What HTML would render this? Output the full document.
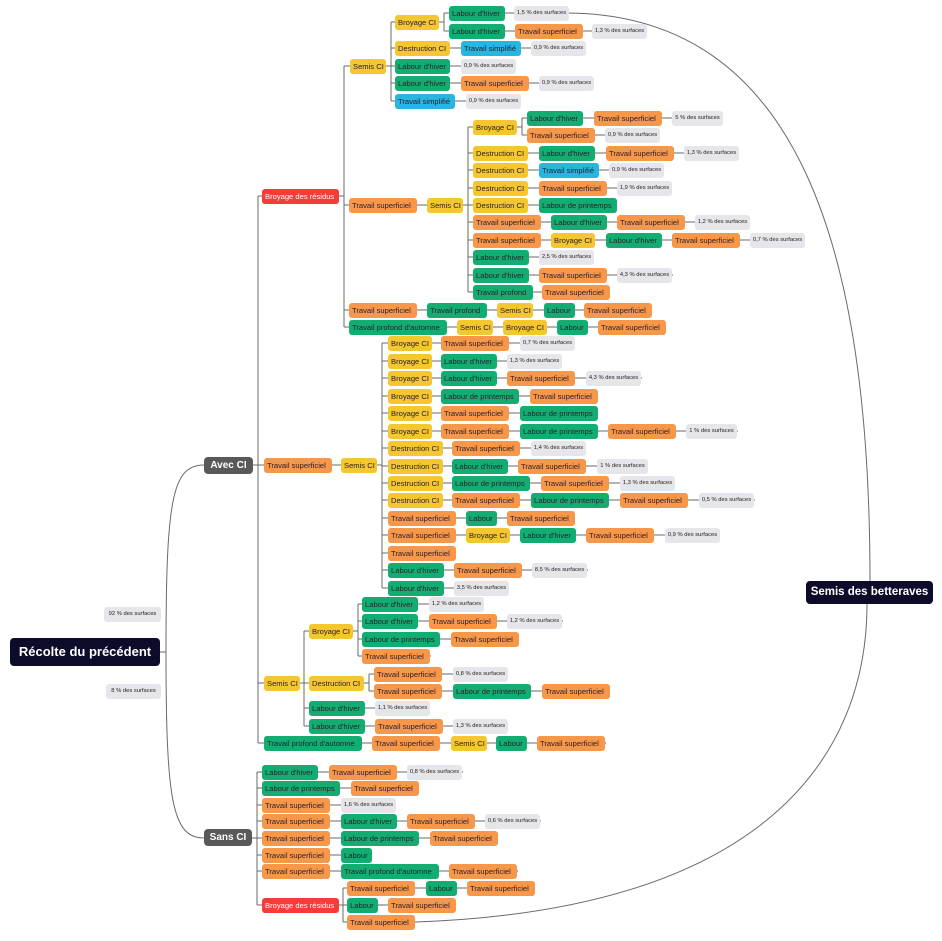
<!DOCTYPE html>
<html><head><meta charset="utf-8"><style>
body{margin:0;width:942px;height:941px;background:#fff;position:relative;overflow:hidden;font-family:"Liberation Sans",sans-serif}
svg{position:absolute;left:0;top:0}
.n{position:absolute;height:15px;line-height:15px;font-size:7.6px;padding:0 0 0 3px;box-sizing:border-box;border-radius:3px;white-space:nowrap;color:#2a2030;overflow:hidden}
.y{background:#f4c630}.g{background:#13ad72}.o{background:#f7974a}.b{background:#27b6e0}.r{background:#f43c38;color:#fff}
.p{background:#e6e6ea;font-size:5.8px;width:55px;color:#222;text-align:center;padding:0}
.ts{width:68px}.lh{width:56px}.bc{width:44px}.sc{width:36px}.dc{width:55px}.tsi{width:60px}.lp{width:78px}.tp{width:60px}.tpa{width:98px}.lb{width:31px}.br{width:77px}
.w51{width:51px}
.big{position:absolute;color:#fff;border-radius:4px;text-align:center;font-weight:bold}
</style></head><body>
<svg width="942" height="941" fill="none" stroke="#6a6a6a" stroke-width="1">
<path d="M160,652H166C166,500 172,465 204,465M166,652C166,800 172,838 204,838"/>
<path d="M568,13C800,15 870,250 870,581M416,922C760,910 867,760 867,604"/>
<path d="M258,196V743M344,66V327M391,22V101M444,13V31M468,127V292M522,118V135M382,343V588M304,631V726M358,604V656M369,674V691M257,772V905M343,888V922"/>
<path d="M258,196H344M252,465H382M258,683H304M258,743H606M344,66H391M344,205H468M344,310H652M344,327H666M391,22H444M444,13H568M444,31H647M391,48H586M391,66H515M391,83H594M391,101H520M468,127H522M522,118H722M522,135H660M468,153H738M468,170H663M468,188H672M468,205H617M468,222H750M468,240H805M468,257H594M468,275H673M468,292H610M382,343H575M382,361H562M382,378H642M382,396H598M382,413H598M382,431H738M382,448H586M382,466H648M382,483H675M382,500H755M382,518H575M382,535H720M382,553H456M382,570H588M382,588H509M304,631H358M304,683H369M304,708H430M304,726H508M358,604H484M358,621H563M358,639H519M358,656H431M369,674H508M369,691H610M251,838H257M257,772H463M257,788H419M257,805H395M257,821H541M257,838H498M257,855H371M257,871H518M257,905H343M343,888H535M343,905H456M343,922H416"/>
</svg>
<div class="big" style="left:10px;top:638px;width:150px;height:28px;line-height:28px;background:#0c0b2a;font-size:13px">Récolte du précédent</div>
<div class="big" style="left:806px;top:581px;width:127px;height:23px;line-height:23px;background:#0c0b2a;font-size:11.5px">Semis des betteraves</div>
<div class="big" style="left:204px;top:457px;width:49px;height:17px;line-height:17px;background:#595959;font-size:10px">Avec CI</div>
<div class="big" style="left:204px;top:829px;width:48px;height:17px;line-height:17px;background:#595959;font-size:10px">Sans CI</div>
<div class="n p" style="left:104px;top:607px;width:57px">92 % des surfaces</div>
<div class="n p" style="left:106px;top:684px;width:55px">8 % des surfaces</div>

<div class="n r br" style="left:262px;top:189px">Broyage des résidus</div>
<div class="n y sc" style="left:350px;top:59px">Semis CI</div>
<div class="n y bc" style="left:395px;top:15px">Broyage CI</div>
<div class="n g lh" style="left:449px;top:6px">Labour d'hiver</div><div class="n p" style="left:514px;top:6px">1,5 % des surfaces</div>
<div class="n g lh" style="left:449px;top:24px">Labour d'hiver</div><div class="n o ts" style="left:515px;top:24px">Travail superficiel</div><div class="n p" style="left:592px;top:24px">1,3 % des surfaces</div>
<div class="n y dc" style="left:395px;top:41px">Destruction CI</div><div class="n b tsi" style="left:461px;top:41px">Travail simplifié</div><div class="n p" style="left:531px;top:41px">0,9 % des surfaces</div>
<div class="n g dc" style="left:395px;top:59px">Labour d'hiver</div><div class="n p" style="left:461px;top:59px">0,9 % des surfaces</div>
<div class="n g dc" style="left:395px;top:76px">Labour d'hiver</div><div class="n o ts" style="left:461px;top:76px">Travail superficiel</div><div class="n p" style="left:539px;top:76px">0,9 % des surfaces</div>
<div class="n b tsi" style="left:395px;top:94px">Travail simplifié</div><div class="n p" style="left:466px;top:94px">0,9 % des surfaces</div>

<div class="n o ts" style="left:349px;top:198px">Travail superficiel</div><div class="n y sc" style="left:427px;top:198px">Semis CI</div>
<div class="n y bc" style="left:473px;top:120px">Broyage CI</div>
<div class="n g lh" style="left:527px;top:111px">Labour d'hiver</div><div class="n o ts" style="left:594px;top:111px">Travail superficiel</div><div class="n p w51" style="left:672px;top:111px">5 % des surfaces</div>
<div class="n o ts" style="left:527px;top:128px">Travail superficiel</div><div class="n p" style="left:605px;top:128px">0,9 % des surfaces</div>
<div class="n y dc" style="left:473px;top:146px">Destruction CI</div><div class="n g lh" style="left:539px;top:146px">Labour d'hiver</div><div class="n o ts" style="left:606px;top:146px">Travail superficiel</div><div class="n p" style="left:684px;top:146px">1,3 % des surfaces</div>
<div class="n y dc" style="left:473px;top:163px">Destruction CI</div><div class="n b tsi" style="left:539px;top:163px">Travail simplifié</div><div class="n p" style="left:609px;top:163px">0,9 % des surfaces</div>
<div class="n y dc" style="left:473px;top:181px">Destruction CI</div><div class="n o ts" style="left:539px;top:181px">Travail superficiel</div><div class="n p" style="left:617px;top:181px">1,9 % des surfaces</div>
<div class="n y dc" style="left:473px;top:198px">Destruction CI</div><div class="n g lp" style="left:539px;top:198px">Labour de printemps</div>
<div class="n o ts" style="left:473px;top:215px">Travail superficiel</div><div class="n g lh" style="left:551px;top:215px">Labour d'hiver</div><div class="n o ts" style="left:617px;top:215px">Travail superficiel</div><div class="n p" style="left:695px;top:215px">1,2 % des surfaces</div>
<div class="n o ts" style="left:473px;top:233px">Travail superficiel</div><div class="n y bc" style="left:551px;top:233px">Broyage CI</div><div class="n g lh" style="left:606px;top:233px">Labour d'hiver</div><div class="n o ts" style="left:672px;top:233px">Travail superficiel</div><div class="n p" style="left:750px;top:233px">0,7 % des surfaces</div>
<div class="n g lh" style="left:473px;top:250px">Labour d'hiver</div><div class="n p" style="left:539px;top:250px">2,5 % des surfaces</div>
<div class="n g lh" style="left:473px;top:268px">Labour d'hiver</div><div class="n o ts" style="left:539px;top:268px">Travail superficiel</div><div class="n p" style="left:617px;top:268px">4,3 % des surfaces</div>
<div class="n g tp" style="left:473px;top:285px">Travail profond</div><div class="n o ts" style="left:542px;top:285px">Travail superficiel</div>

<div class="n o ts" style="left:349px;top:303px">Travail superficiel</div><div class="n g tp" style="left:427px;top:303px">Travail profond</div><div class="n y sc" style="left:497px;top:303px">Semis CI</div><div class="n g lb" style="left:544px;top:303px">Labour</div><div class="n o ts" style="left:584px;top:303px">Travail superficiel</div>
<div class="n g tpa" style="left:349px;top:320px">Travail profond d'automne</div><div class="n y sc" style="left:457px;top:320px">Semis CI</div><div class="n y bc" style="left:503px;top:320px">Broyage CI</div><div class="n g lb" style="left:557px;top:320px">Labour</div><div class="n o ts" style="left:598px;top:320px">Travail superficiel</div>

<div class="n o ts" style="left:264px;top:458px">Travail superficiel</div><div class="n y sc" style="left:341px;top:458px">Semis CI</div>
<div class="n y bc" style="left:388px;top:336px">Broyage CI</div><div class="n o ts" style="left:441px;top:336px">Travail superficiel</div><div class="n p" style="left:520px;top:336px">0,7 % des surfaces</div>
<div class="n y bc" style="left:388px;top:354px">Broyage CI</div><div class="n g lh" style="left:441px;top:354px">Labour d'hiver</div><div class="n p" style="left:507px;top:354px">1,3 % des surfaces</div>
<div class="n y bc" style="left:388px;top:371px">Broyage CI</div><div class="n g lh" style="left:441px;top:371px">Labour d'hiver</div><div class="n o ts" style="left:507px;top:371px">Travail superficiel</div><div class="n p" style="left:586px;top:371px">4,3 % des surfaces</div>
<div class="n y bc" style="left:388px;top:389px">Broyage CI</div><div class="n g lp" style="left:441px;top:389px">Labour de printemps</div><div class="n o ts" style="left:530px;top:389px">Travail superficiel</div>
<div class="n y bc" style="left:388px;top:406px">Broyage CI</div><div class="n o ts" style="left:441px;top:406px">Travail superficiel</div><div class="n g lp" style="left:520px;top:406px">Labour de printemps</div>
<div class="n y bc" style="left:388px;top:424px">Broyage CI</div><div class="n o ts" style="left:441px;top:424px">Travail superficiel</div><div class="n g lp" style="left:520px;top:424px">Labour de printemps</div><div class="n o ts" style="left:608px;top:424px">Travail superficiel</div><div class="n p w51" style="left:686px;top:424px">1 % des surfaces</div>
<div class="n y dc" style="left:388px;top:441px">Destruction CI</div><div class="n o ts" style="left:452px;top:441px">Travail superficiel</div><div class="n p" style="left:531px;top:441px">1,4 % des surfaces</div>
<div class="n y dc" style="left:388px;top:459px">Destruction CI</div><div class="n g lh" style="left:452px;top:459px">Labour d'hiver</div><div class="n o ts" style="left:518px;top:459px">Travail superficiel</div><div class="n p w51" style="left:597px;top:459px">1 % des surfaces</div>
<div class="n y dc" style="left:388px;top:476px">Destruction CI</div><div class="n g lp" style="left:452px;top:476px">Labour de printemps</div><div class="n o ts" style="left:541px;top:476px">Travail superficiel</div><div class="n p" style="left:620px;top:476px">1,3 % des surfaces</div>
<div class="n y dc" style="left:388px;top:493px">Destruction CI</div><div class="n o ts" style="left:452px;top:493px">Travail superficiel</div><div class="n g lp" style="left:531px;top:493px">Labour de printemps</div><div class="n o ts" style="left:620px;top:493px">Travail superficiel</div><div class="n p" style="left:699px;top:493px">0,5 % des surfaces</div>
<div class="n o ts" style="left:388px;top:511px">Travail superficiel</div><div class="n g lb" style="left:466px;top:511px">Labour</div><div class="n o ts" style="left:507px;top:511px">Travail superficiel</div>
<div class="n o ts" style="left:388px;top:528px">Travail superficiel</div><div class="n y bc" style="left:466px;top:528px">Broyage CI</div><div class="n g lh" style="left:520px;top:528px">Labour d'hiver</div><div class="n o ts" style="left:586px;top:528px">Travail superficiel</div><div class="n p" style="left:665px;top:528px">0,9 % des surfaces</div>
<div class="n o ts" style="left:388px;top:546px">Travail superficiel</div>
<div class="n g lh" style="left:388px;top:563px">Labour d'hiver</div><div class="n o ts" style="left:454px;top:563px">Travail superficiel</div><div class="n p" style="left:532px;top:563px">8,5 % des surfaces</div>
<div class="n g lh" style="left:388px;top:581px">Labour d'hiver</div><div class="n p" style="left:454px;top:581px">3,5 % des surfaces</div>

<div class="n y sc" style="left:264px;top:676px">Semis CI</div>
<div class="n y bc" style="left:309px;top:624px">Broyage CI</div>
<div class="n g lh" style="left:362px;top:597px">Labour d'hiver</div><div class="n p" style="left:429px;top:597px">1,2 % des surfaces</div>
<div class="n g lh" style="left:362px;top:614px">Labour d'hiver</div><div class="n o ts" style="left:429px;top:614px">Travail superficiel</div><div class="n p" style="left:507px;top:614px">1,2 % des surfaces</div>
<div class="n g lp" style="left:362px;top:632px">Labour de printemps</div><div class="n o ts" style="left:451px;top:632px">Travail superficiel</div>
<div class="n o ts" style="left:362px;top:649px">Travail superficiel</div>
<div class="n y dc" style="left:309px;top:676px">Destruction CI</div>
<div class="n o ts" style="left:374px;top:667px">Travail superficiel</div><div class="n p" style="left:453px;top:667px">0,8 % des surfaces</div>
<div class="n o ts" style="left:374px;top:684px">Travail superficiel</div><div class="n g lp" style="left:453px;top:684px">Labour de printemps</div><div class="n o ts" style="left:542px;top:684px">Travail superficiel</div>
<div class="n g lh" style="left:309px;top:701px">Labour d'hiver</div><div class="n p" style="left:375px;top:701px">1,1 % des surfaces</div>
<div class="n g lh" style="left:309px;top:719px">Labour d'hiver</div><div class="n o ts" style="left:375px;top:719px">Travail superficiel</div><div class="n p" style="left:453px;top:719px">1,3 % des surfaces</div>
<div class="n g tpa" style="left:264px;top:736px">Travail profond d'automne</div><div class="n o ts" style="left:372px;top:736px">Travail superficiel</div><div class="n y sc" style="left:451px;top:736px">Semis CI</div><div class="n g lb" style="left:496px;top:736px">Labour</div><div class="n o ts" style="left:537px;top:736px">Travail superficiel</div>

<div class="n g lh" style="left:262px;top:765px">Labour d'hiver</div><div class="n o ts" style="left:329px;top:765px">Travail superficiel</div><div class="n p" style="left:407px;top:765px">0,8 % des surfaces</div>
<div class="n g lp" style="left:262px;top:781px">Labour de printemps</div><div class="n o ts" style="left:351px;top:781px">Travail superficiel</div>
<div class="n o ts" style="left:262px;top:798px">Travail superficiel</div><div class="n p" style="left:341px;top:798px">1,6 % des surfaces</div>
<div class="n o ts" style="left:262px;top:814px">Travail superficiel</div><div class="n g lh" style="left:341px;top:814px">Labour d'hiver</div><div class="n o ts" style="left:407px;top:814px">Travail superficiel</div><div class="n p" style="left:485px;top:814px">0,6 % des surfaces</div>
<div class="n o ts" style="left:262px;top:831px">Travail superficiel</div><div class="n g lp" style="left:341px;top:831px">Labour de printemps</div><div class="n o ts" style="left:430px;top:831px">Travail superficiel</div>
<div class="n o ts" style="left:262px;top:848px">Travail superficiel</div><div class="n g lb" style="left:341px;top:848px">Labour</div>
<div class="n o ts" style="left:262px;top:864px">Travail superficiel</div><div class="n g tpa" style="left:341px;top:864px">Travail profond d'automne</div><div class="n o ts" style="left:449px;top:864px">Travail superficiel</div>
<div class="n r br" style="left:262px;top:898px">Broyage des résidus</div>
<div class="n o ts" style="left:347px;top:881px">Travail superficiel</div><div class="n g lb" style="left:426px;top:881px">Labour</div><div class="n o ts" style="left:467px;top:881px">Travail superficiel</div>
<div class="n g lb" style="left:347px;top:898px">Labour</div><div class="n o ts" style="left:388px;top:898px">Travail superficiel</div>
<div class="n o ts" style="left:347px;top:915px">Travail superficiel</div>
</body></html>
